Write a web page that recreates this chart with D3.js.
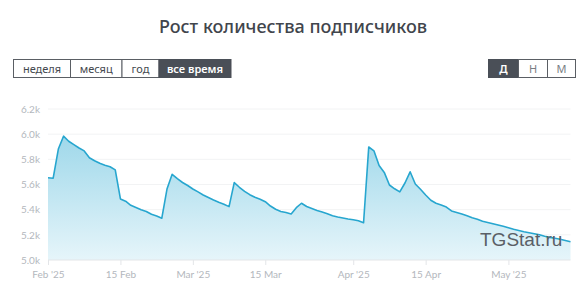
<!DOCTYPE html>
<html>
  <head>
    <meta charset="utf-8">
    <script src="https://d3js.org/d3.v7.min.js"></script>
    <title>Рост количества подписчиков</title>
    <style>
      body {
        margin: 0px;
        background: #fff;
      }
      .domain {
        display: none;
      }
      .tick text {
        fill: #b3b7bd;
        font-size: 10px;
        font-family: Lato, sans-serif;
      }
      .title {
        fill: #41454c;
        font-size: 18px;
        font-weight: 500;
        font-family: "Noto Sans", sans-serif;
      }
      .btn-text {
        font-size: 11px;
        font-family: "Noto Sans", sans-serif;
      }
    </style>
  </head>
  <body>
    <svg width="586" height="305"></svg>
    <script>

      // subscribers per day, Feb 1 2025 .. May 13 2025
      const startDate = Date.UTC(2025, 1, 1);
      const subscribers = [
        5654, 5650, 5882, 5984, 5944, 5917, 5890, 5867, 5813, 5789,
        5769, 5753, 5741, 5716, 5485, 5467, 5435, 5417, 5399, 5386,
        5363, 5350, 5332, 5564, 5681, 5646, 5616, 5592, 5564, 5541,
        5517, 5497, 5477, 5459, 5443, 5424, 5615, 5578, 5546, 5519,
        5498, 5483, 5463, 5429, 5403, 5386, 5377, 5366, 5416, 5451,
        5425, 5409, 5394, 5382, 5368, 5352, 5342, 5334, 5326, 5320,
        5312, 5297, 5898, 5868, 5751, 5696, 5596, 5566, 5541, 5612,
        5701, 5604, 5562, 5517, 5475, 5451, 5437, 5421, 5390, 5378,
        5366, 5351, 5335, 5324, 5308, 5298, 5288, 5278, 5268, 5257,
        5245, 5235, 5225, 5217, 5209, 5200, 5189, 5180, 5173, 5165,
        5155, 5145
      ];
      const xTickDates = [
        Date.UTC(2025, 1, 1), Date.UTC(2025, 1, 15), Date.UTC(2025, 2, 1),
        Date.UTC(2025, 2, 15), Date.UTC(2025, 3, 1), Date.UTC(2025, 3, 15),
        Date.UTC(2025, 4, 1)
      ];
      const xTickLabels = ["Feb '25", '15 Feb', "Mar '25", '15 Mar', "Apr '25", '15 Apr', "May '25"];
      const yTicks = [5000, 5200, 5400, 5600, 5800, 6000, 6200];
      const periodButtons = ['неделя', 'месяц', 'год', 'все время'];
      const periodActive = 'все время';
      const stepButtons = ['Д', 'Н', 'М'];
      const stepActive = 'Д';

      const DAY = 24 * 3600 * 1000;
      const data = subscribers.map((v, i) => ({ date: new Date(startDate + i * DAY), value: v }));

      const svg = d3.select('svg');
      const plot = { left: 48, right: 570.5, top: 109, bottom: 260 };

      svg.append('text')
          .attr('class', 'title')
          .attr('x', 293)
          .attr('y', 33)
          .attr('text-anchor', 'middle')
          .text('Рост количества подписчиков');

      // button groups
      const drawButtons = (labels, active, x0, widths, textColor) => {
        const g = svg.append('g');
        let x = x0;
        labels.forEach((label, i) => {
          const w = widths[i];
          const on = label === active;
          g.append('rect')
              .attr('x', x).attr('y', 59.5)
              .attr('width', w).attr('height', 18)
              .attr('fill', on ? '#4a4f57' : '#fff')
              .attr('stroke', on ? '#4a4f57' : '#5a5e64')
              .attr('stroke-width', 1);
          g.append('text')
              .attr('class', 'btn-text')
              .attr('x', x + w / 2)
              .attr('y', 72.5)
              .attr('text-anchor', 'middle')
              .attr('fill', on ? '#fff' : textColor)
              .attr('font-weight', on ? 600 : 400)
              .text(label);
          x += w;
        });
      };
      drawButtons(periodButtons, periodActive, 13.5, [57, 51.5, 37, 72], '#45494f');
      drawButtons(stepButtons, stepActive, 488.5, [30, 29, 28], '#7a7e84');

      const xScale = d3.scaleUtc()
          .domain([data[0].date, data[data.length - 1].date])
          .range([plot.left, plot.right]);
      const yScale = d3.scaleLinear()
          .domain([5000, 6200])
          .range([plot.bottom, plot.top]);

      // grid
      svg.append('g')
          .selectAll('line').data(yTicks.slice(1)).enter().append('line')
            .attr('x1', plot.left).attr('x2', plot.right)
            .attr('y1', d => yScale(d)).attr('y2', d => yScale(d))
            .attr('stroke', '#f2f3f4');

      const defs = svg.append('defs');
      const grad = defs.append('linearGradient')
          .attr('id', 'fill')
          .attr('x1', 0).attr('x2', 0).attr('y1', 0).attr('y2', 1);
      grad.append('stop').attr('offset', '0%').attr('stop-color', '#9fd8ea');
      grad.append('stop').attr('offset', '100%').attr('stop-color', '#e6f5fa');

      const area = d3.area()
          .x(d => xScale(d.date))
          .y0(plot.bottom)
          .y1(d => yScale(d.value));
      const line = d3.line()
          .x(d => xScale(d.date))
          .y(d => yScale(d.value));

      svg.append('path')
          .datum(data)
          .attr('d', area)
          .attr('fill', 'url(#fill)');

      svg.append('path')
          .datum(data)
          .attr('d', line)
          .attr('fill', 'none')
          .attr('stroke', '#27a6cf')
          .attr('stroke-width', 1.6)
          .attr('stroke-linejoin', 'round');

      // axes
      const xAxis = d3.axisBottom(xScale)
          .tickValues(xTickDates.map(d => new Date(d)))
          .tickFormat((d, i) => xTickLabels[i])
          .tickSize(5)
          .tickPadding(6);
      const xAxisG = svg.append('g')
          .attr('transform', `translate(0,${plot.bottom})`)
          .call(xAxis);
      xAxisG.selectAll('.tick line').attr('stroke', '#e3e5e8');
      xAxisG.append('line')
          .attr('x1', plot.left).attr('x2', plot.right)
          .attr('stroke', '#e3e5e8');

      const yAxis = d3.axisLeft(yScale)
          .tickValues(yTicks)
          .tickFormat(d => (d / 1000).toFixed(1) + 'k')
          .tickSize(0)
          .tickPadding(8);
      svg.append('g')
          .attr('transform', `translate(${plot.left},0)`)
          .call(yAxis);

      svg.append('text')
          .attr('x', 480)
          .attr('y', 246)
          .attr('font-family', '"Liberation Sans", Arial, sans-serif')
          .attr('font-size', 19)
          .attr('fill', '#5a5f66')
          .text('TGStat.ru');
    </script>
  </body>
</html>
